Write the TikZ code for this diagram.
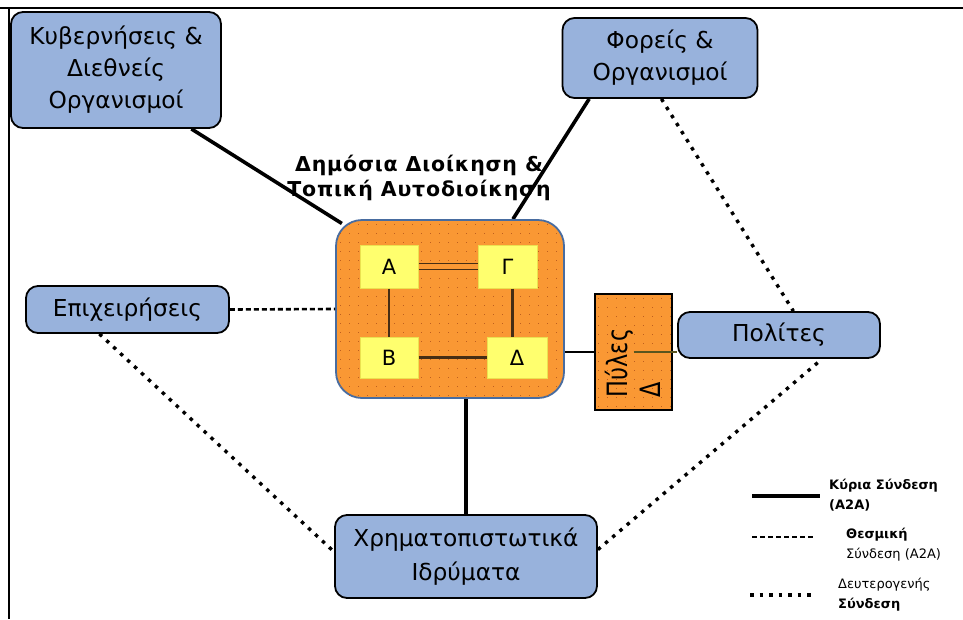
\documentclass[tikz,border=0pt]{standalone}
\usepackage{fontspec}
\setmainfont{DejaVu Sans}
\newfontfamily\headfont{DejaVu Sans}[LetterSpace=4]
\usetikzlibrary{calc,backgrounds}
\definecolor{boxblue}{RGB}{152,178,220}
\definecolor{orangefill}{RGB}{250,152,52}
\definecolor{orangedot}{RGB}{190,95,30}
\definecolor{yellowfill}{RGB}{255,255,110}
\definecolor{yellowrim}{RGB}{235,225,80}
\definecolor{rimblue}{RGB}{72,108,160}
\definecolor{linkbrown}{RGB}{70,45,20}
\definecolor{olivelink}{RGB}{90,85,30}

\begin{document}
\begin{tikzpicture}[x=1pt,y=-1pt,
  entity/.style={draw=black, line width=1.8pt, fill=boxblue, rounded corners=12pt,
    font=\fontsize{23.3}{32}\selectfont, align=center, inner sep=0pt},
  office/.style={fill=yellowfill, draw=yellowrim, line width=1pt, inner sep=0pt,
    font=\fontsize{21}{24}\selectfont},
  mainlink/.style={line width=3.6pt, black},
  formallink/.style={line width=2.6pt, black, dash pattern=on 5pt off 3pt},
  sidelink/.style={line width=3.4pt, black, dash pattern=on 3.5pt off 6pt},
  innerlink/.style={line width=2.8pt, linkbrown},
  legendtext/.style={font=\fontsize{13}{20}\selectfont, align=left, anchor=west, inner sep=0pt}
]
\useasboundingbox (0,0) rectangle (963,619);

% page frame
\draw[line width=2.6pt] (0,8) -- (963,8);
\draw[line width=2.6pt] (9,8) -- (9,619);

% outer partners
\node[entity, minimum width=210, minimum height=116] (gov) at (116,70)
  {Κυβερνήσεις \&\\Διεθνείς\\Οργανισμοί};
\node[entity, minimum width=195, minimum height=80] (bodies) at (660,58)
  {Φορείς \&\\Οργανισμοί};
\node[entity, minimum width=203, minimum height=47] (business) at (127.5,309.5)
  {Επιχειρήσεις};
\node[entity, minimum width=202, minimum height=46] (citizens) at (779,335)
  {Πολίτες};
\node[entity, minimum width=262, minimum height=83, font=\fontsize{23.3}{34}\selectfont] (banks) at (466,556.5)
  {Χρηματοπιστωτικά\\Ιδρύματα};

% public administration block
\node[draw=rimblue, line width=1.8pt, fill=orangefill, rounded corners=26pt,
  minimum width=228, minimum height=178, inner sep=0pt] (central) at (450,309) {};
\begin{scope}
  \clip[rounded corners=26pt] (central.south west) rectangle (central.north east);
  \foreach \x in {340,349,...,565}
    \foreach \y in {224,233,...,400}
      \fill[orangedot] (\x,\y) rectangle ++(1.3,1.3);
\end{scope}

\node[office, minimum width=58, minimum height=43] (A) at (389,266.5) {Α};
\node[office, minimum width=59, minimum height=43] (G) at (507.5,266.5) {Γ};
\node[office, minimum width=58, minimum height=41] (B) at (389,357.5) {Β};
\node[office, minimum width=60, minimum height=41] (D) at (517,357.5) {Δ};

\node[font=\headfont\bfseries\fontsize{20.5}{25}\selectfont, align=center, inner sep=0pt] (title) at (419,178)
  {Δημόσια Διοίκηση \&\\Τοπική Αυτοδιοίκηση};

% portal
\node[fill=orangefill, draw=black, line width=1.4pt, minimum width=77, minimum height=116,
  inner sep=0pt] (portal) at (633.5,352) {};
\begin{scope}
  \clip (portal.south west) rectangle (portal.north east);
  \foreach \x in {598,607,...,672}
    \foreach \y in {298,307,...,410}
      \fill[orangedot] (\x,\y) rectangle ++(1.3,1.3);
\end{scope}
\node[rotate=90, align=left, inner sep=0pt, font=\fontsize{28}{33}\selectfont] (portaltext) at (633,363)
  {\scalebox{0.8}[1]{Πύλες}\\\scalebox{0.8}[1]{Δ}};

% links
\begin{scope}[on background layer]
  \draw[mainlink, shorten >=-8pt] (gov.-38) -- (central.142);
  \draw[mainlink] (bodies.-150) -- (central.55);
  \draw[mainlink] (banks.north) -- (banks.north |- central.south);
\end{scope}
\draw[formallink] (business.east) -- (central.west);
\draw[sidelink] (bodies.-88) -- (citizens.59);
\draw[sidelink] (business.-139) -- (banks.178);
\draw[sidelink] (banks.3) -- (citizens.-29);
\draw[line width=1.6pt] (portal.west) -- (portal.west -| central.east);
\draw[olivelink, line width=1.1pt] (portal.center) -- (portal.center -| citizens.west);

% links between offices
\draw[draw=linkbrown, line width=1.4pt, double=orangefill, double distance=4.5pt] (A.east) -- (G.west);
\draw[innerlink] (A.south) -- (B.north);
\coordinate (gd) at ($(G.south)!.5!(D.north)$);
\draw[innerlink] (gd |- G.south) -- (gd |- D.north);
\draw[innerlink] (B.east) -- (D.west);

% legend
\coordinate (l1a) at (752,496); \coordinate (l1b) at (820,496);
\draw[mainlink] (l1a) -- (l1b);
\node[legendtext, font=\bfseries\fontsize{13}{20}\selectfont] (l1t) at (829,495) {Κύρια Σύνδεση\\(A2A)};
\coordinate (l2a) at (752,537); \coordinate (l2b) at (815,537);
\draw[formallink, line width=2pt] (l2a) -- (l2b);
\node[legendtext] (l2t) at (846,545) {{\bfseries Θεσμική}\\Σύνδεση (A2A)};
\coordinate (l3a) at (750,595); \coordinate (l3b) at (813,595);
\draw[sidelink] (l3a) -- (l3b);
\node[legendtext] (l3t) at (838,595) {Δευτερογενής\\{\bfseries Σύνδεση}};
\end{tikzpicture}
\end{document}
